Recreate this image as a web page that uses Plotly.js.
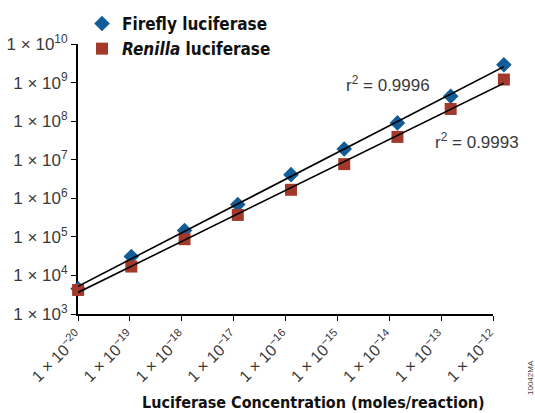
<!DOCTYPE html>
<html><head><meta charset="utf-8">
<script src="https://cdn.plot.ly/plotly-3.0.1.min.js"></script>
<style>html,body{margin:0;padding:0;background:#fff}</style>
</head><body><div id="chart" style="width:535px;height:413px"></div>
<script>
// ---- data ----
const concentrations = [1e-20, 1e-19, 1e-18, 1e-17, 1e-16, 1e-15, 1e-14, 1e-13, 1e-12];
const fireflyRLU = [4.5e3, 3.1e4, 1.46e5, 6.9e5, 4.1e6, 1.9e7, 9.0e7, 4.4e8, 2.9e9];
const renillaRLU = [4.2e3, 1.7e4, 8.7e4, 3.7e5, 1.66e6, 7.7e6, 3.9e7, 2.07e8, 1.2e9];
const fireflyName = "<b>Firefly luciferase</b>";
const renillaName = "<b><i>Renilla</i> luciferase</b>";
const fireflyR2 = "r<sup>2</sup> = 0.9996";
const renillaR2 = "r<sup>2</sup> = 0.9993";
const yTickVals = [1e3, 1e4, 1e5, 1e6, 1e7, 1e8, 1e9, 1e10];
const yTickText = ["1 × 10<sup>3</sup>", "1 × 10<sup>4</sup>", "1 × 10<sup>5</sup>", "1 × 10<sup>6</sup>",
                   "1 × 10<sup>7</sup>", "1 × 10<sup>8</sup>", "1 × 10<sup>9</sup>", "1 × 10<sup>10</sup>"];
const xTickText = ["1 × 10<sup>−20</sup>", "1 × 10<sup>−19</sup>", "1 × 10<sup>−18</sup>", "1 × 10<sup>−17</sup>",
                   "1 × 10<sup>−16</sup>", "1 × 10<sup>−15</sup>", "1 × 10<sup>−14</sup>", "1 × 10<sup>−13</sup>",
                   "1 × 10<sup>−12</sup>"];
const xTitle = "<b>Luciferase Concentration (moles/reaction)</b>";
const figCode = "10042MA";

// log-log least-squares fit, evaluated at the end concentrations
function fitEnds(xs, ys) {
  const lx = xs.map(Math.log10), ly = ys.map(Math.log10);
  const n = lx.length;
  const mx = lx.reduce((a, b) => a + b, 0) / n, my = ly.reduce((a, b) => a + b, 0) / n;
  let sxy = 0, sxx = 0;
  for (let i = 0; i < n; i++) { sxy += (lx[i] - mx) * (ly[i] - my); sxx += (lx[i] - mx) ** 2; }
  const b = sxy / sxx, a = my - b * mx;
  const ex = [xs[0], xs[n - 1]];
  return { x: ex, y: ex.map(x => Math.pow(10, a + b * Math.log10(x))) };
}
const fitF = fitEnds(concentrations, fireflyRLU);
const fitR = fitEnds(concentrations, renillaRLU);

const BLUE = "#125c98", RED = "#a3392b";
const lightFont = "'Liberation Sans', Arimo, Helvetica, Arial, sans-serif";
const narrowFont = "'Liberation Sans Narrow', 'Arial Narrow', 'DejaVu Sans Condensed', sans-serif";

const traces = [
  // empty trace so the visible tick axis (x) gets its own subplot
  { x: [], y: [], xaxis: "x", yaxis: "y", type: "scatter", mode: "markers", showlegend: false, hoverinfo: "skip" },
  { x: concentrations, y: fireflyRLU, xaxis: "x2", yaxis: "y", type: "scatter", mode: "markers", name: fireflyName,
    marker: { symbol: "diamond", size: 12, color: BLUE }, cliponaxis: false },
  { x: concentrations, y: renillaRLU, xaxis: "x2", yaxis: "y", type: "scatter", mode: "markers", name: renillaName,
    marker: { symbol: "square", size: 12, color: RED }, cliponaxis: false },
  { x: fitF.x, y: fitF.y, xaxis: "x2", yaxis: "y", type: "scatter", mode: "lines", showlegend: false,
    line: { color: "#000", width: 1.6 }, hoverinfo: "skip", cliponaxis: false },
  { x: fitR.x, y: fitR.y, xaxis: "x2", yaxis: "y", type: "scatter", mode: "lines", showlegend: false,
    line: { color: "#000", width: 1.6 }, hoverinfo: "skip", cliponaxis: false }
];

const L = 78, R = 31, T = 44, B = 99, W = 535, H = 413;
const pw = W - L - R, ph = H - T - B;
const px = v => (v - L) / pw, py = v => (H - B - v) / ph;

const layout = {
  width: W, height: H,
  margin: { l: L, r: R, t: T, b: B, pad: 0, autoexpand: false },
  paper_bgcolor: "#fff", plot_bgcolor: "rgba(0,0,0,0)",
  font: { family: lightFont, color: "#333" },
  showlegend: true,
  legend: {
    x: px(82), y: py(6), xanchor: "left", yanchor: "top",
    bgcolor: "rgba(0,0,0,0)", font: { family: narrowFont, size: 17, color: "#111" }, tracegroupgap: 0
  },
  xaxis: {
    type: "log", range: [-20, -12], domain: [0, 415 / pw], anchor: "y",
    showline: true, linecolor: "#000", linewidth: 2, mirror: false,
    ticks: "outside", ticklen: 5, tickwidth: 1, tickcolor: "#000",
    tickmode: "array", tickvals: concentrations, ticktext: xTickText, tickangle: -45,
    tickfont: { family: lightFont, size: 16, color: "#3a3a3a" },
    showgrid: false, zeroline: false, fixedrange: true, automargin: false
  },
  xaxis2: {
    type: "log", range: [-20.002, -11.998], domain: [0, 1], anchor: "y", visible: false,
    showgrid: false, zeroline: false, fixedrange: true
  },
  yaxis: {
    type: "log", range: [3, 10], anchor: "x",
    showline: true, linecolor: "#000", linewidth: 2,
    ticks: "outside", ticklen: 5, tickwidth: 1, tickcolor: "#000",
    tickmode: "array", tickvals: yTickVals, ticktext: yTickText,
    tickfont: { family: lightFont, size: 17, color: "#3a3a3a" },
    showgrid: false, zeroline: false, fixedrange: true, automargin: false
  },
  annotations: [
    { xref: "paper", yref: "paper", x: px(388), y: py(84), text: fireflyR2, showarrow: false,
      xanchor: "center", yanchor: "middle", font: { family: lightFont, size: 17, color: "#3a3a3a" } },
    { xref: "paper", yref: "paper", x: px(477), y: py(141), text: renillaR2, showarrow: false,
      xanchor: "center", yanchor: "middle", font: { family: lightFont, size: 17, color: "#3a3a3a" } },
    { xref: "paper", yref: "paper", x: px(313), y: py(403), text: xTitle, showarrow: false,
      xanchor: "center", yanchor: "middle", font: { family: narrowFont, size: 16, color: "#111" } },
    { xref: "paper", yref: "paper", x: px(530), y: py(378), text: figCode, showarrow: false, textangle: -90,
      xanchor: "center", yanchor: "middle", font: { family: lightFont, size: 8, color: "#444" } }
  ]
};

Plotly.newPlot("chart", traces, layout, { staticPlot: true, displayModeBar: false });
</script>
</body></html>
